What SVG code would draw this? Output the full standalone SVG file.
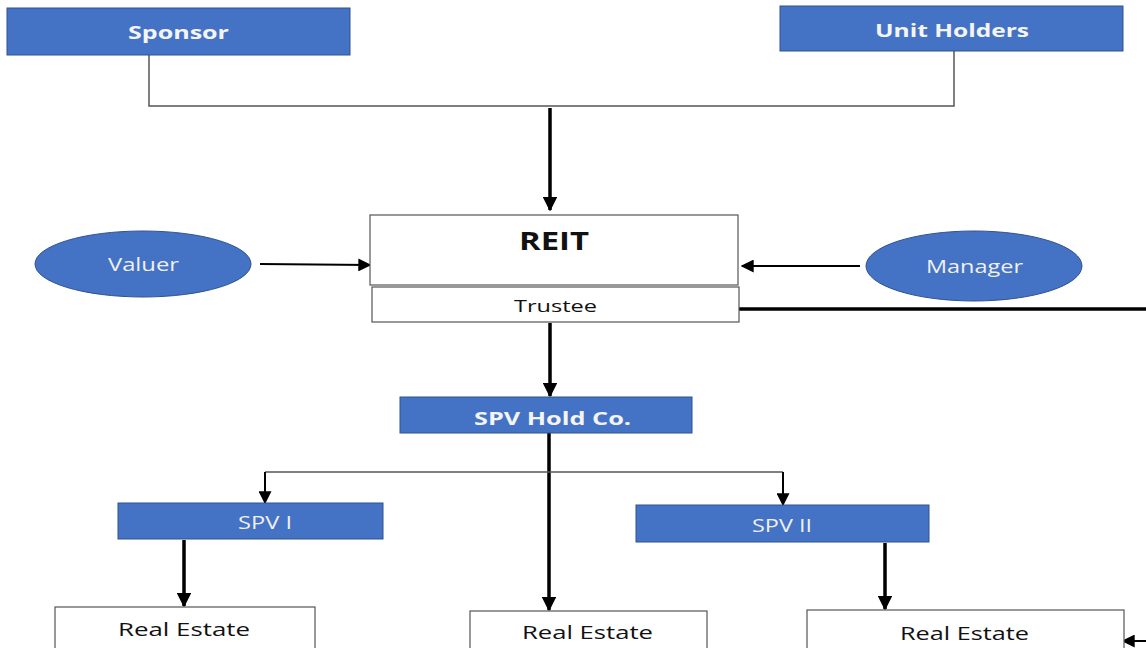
<svg xmlns="http://www.w3.org/2000/svg" width="1146" height="648" viewBox="0 0 1146 648">
  <defs>
    <marker id="ah" viewBox="0 0 10 10" refX="9" refY="5" markerWidth="4.2" markerHeight="4.2" orient="auto" markerUnits="strokeWidth">
      <path d="M0,0 L10,5 L0,10 z" fill="#000"/>
    </marker>
    <marker id="ahs" viewBox="0 0 10 10" refX="9" refY="5" markerWidth="6.5" markerHeight="6.5" orient="auto" markerUnits="strokeWidth">
      <path d="M0,0 L10,5 L0,10 z" fill="#000"/>
    </marker>
  </defs>
  <style>
    .blue { fill: #4472C4; stroke: #2F528F; stroke-width: 1; }
    .white { fill: #fff; stroke: #555; stroke-width: 1.2; }
    .lbl { font-family: "Open Sans", "Liberation Sans", sans-serif; text-anchor: middle; dominant-baseline: central; }
    .wb { fill: #f4f4f4; font-weight: bold; font-size: 18px; }
    .wn { fill: #f0f0f0; font-size: 18px; }
    .dk { fill: #111; font-size: 18px; }
    .thin { stroke: #555; stroke-width: 1.5; fill: none; }
    .thick { stroke: #000; stroke-width: 3.5; fill: none; }
    .mid { stroke: #000; stroke-width: 2; fill: none; }
  </style>
  <rect width="1146" height="648" fill="#fff"/>

  <g id="connectors">
    <!-- Sponsor and Unit Holders join -->
    <polyline class="thin" points="149,55 149,106 954,106 954,51"/>
    <line class="thick" x1="550" y1="108" x2="550" y2="210" marker-end="url(#ah)"/>
    <!-- Valuer and Manager into REIT -->
    <line class="mid" x1="260" y1="264" x2="370" y2="265" marker-end="url(#ahs)"/>
    <line class="mid" x1="860" y1="266" x2="742" y2="266" marker-end="url(#ahs)"/>
    <!-- Trustee line to the right edge -->
    <line class="thick" x1="739" y1="309" x2="1146" y2="309"/>
    <!-- Trustee to SPV Hold Co. -->
    <line class="thick" x1="550" y1="323" x2="550" y2="396" marker-end="url(#ah)"/>
    <!-- SPV Hold Co. down to the middle Real Estate -->
    <line class="thick" x1="549" y1="433" x2="549" y2="610" marker-end="url(#ah)"/>
    <!-- Split to SPV I and SPV II -->
    <polyline class="thin" points="265,472 783,472"/>
    <line class="mid" x1="265" y1="472" x2="265" y2="503" marker-end="url(#ahs)"/>
    <line class="mid" x1="783" y1="472" x2="783" y2="505" marker-end="url(#ahs)"/>
    <!-- SPVs to Real Estate -->
    <line class="thick" x1="184" y1="540" x2="184" y2="606" marker-end="url(#ah)"/>
    <line class="thick" x1="885" y1="543" x2="885" y2="609" marker-end="url(#ah)"/>
    <line class="mid" x1="1146" y1="641" x2="1123" y2="641" marker-end="url(#ahs)"/>
  </g>

  <g id="sponsor">
    <rect class="blue" x="7" y="8" width="343" height="47"/>
    <text class="lbl wb" x="178.5" y="32" textLength="101" lengthAdjust="spacingAndGlyphs">Sponsor</text>
  </g>
  <g id="unit-holders">
    <rect class="blue" x="780" y="6" width="343" height="45"/>
    <text class="lbl wb" x="952" y="30" textLength="154" lengthAdjust="spacingAndGlyphs">Unit Holders</text>
  </g>
  <g id="reit">
    <rect class="white" x="370" y="215" width="368" height="70"/>
    <text class="lbl" x="554" y="240" font-size="25" font-weight="bold" fill="#111" textLength="70" lengthAdjust="spacingAndGlyphs">REIT</text>
  </g>
  <g id="trustee">
    <rect class="white" x="372" y="287" width="367" height="35"/>
    <text class="lbl" x="555.5" y="305.5" font-size="16" fill="#111" textLength="83" lengthAdjust="spacingAndGlyphs">Trustee</text>
  </g>
  <g id="valuer">
    <ellipse class="blue" cx="143" cy="264" rx="108" ry="33"/>
    <text class="lbl wn" x="143.5" y="263.5" textLength="71" lengthAdjust="spacingAndGlyphs">Valuer</text>
  </g>
  <g id="manager">
    <ellipse class="blue" cx="974" cy="266" rx="108" ry="35"/>
    <text class="lbl wn" x="974.5" y="265.5" textLength="97" lengthAdjust="spacingAndGlyphs">Manager</text>
  </g>
  <g id="spv-hold">
    <rect class="blue" x="400" y="397" width="292" height="36"/>
    <text class="lbl wb" x="552.5" y="418" textLength="157" lengthAdjust="spacingAndGlyphs">SPV Hold Co.</text>
  </g>
  <g id="spv-1">
    <rect class="blue" x="118" y="503" width="265" height="36"/>
    <text class="lbl wn" x="265" y="522" textLength="54" lengthAdjust="spacingAndGlyphs">SPV I</text>
  </g>
  <g id="spv-2">
    <rect class="blue" x="636" y="505" width="293" height="37"/>
    <text class="lbl wn" x="782" y="525" textLength="60" lengthAdjust="spacingAndGlyphs">SPV II</text>
  </g>
  <g id="real-estate-1">
    <rect class="white" x="55" y="607" width="260" height="45"/>
    <text class="lbl dk" x="184" y="629" textLength="132" lengthAdjust="spacingAndGlyphs">Real Estate</text>
  </g>
  <g id="real-estate-2">
    <rect class="white" x="470" y="611" width="237" height="41"/>
    <text class="lbl dk" x="587.5" y="631.5" textLength="131" lengthAdjust="spacingAndGlyphs">Real Estate</text>
  </g>
  <g id="real-estate-3">
    <rect class="white" x="807" y="610" width="317" height="42"/>
    <text class="lbl dk" x="964.5" y="632.5" textLength="129" lengthAdjust="spacingAndGlyphs">Real Estate</text>
  </g>
</svg>
